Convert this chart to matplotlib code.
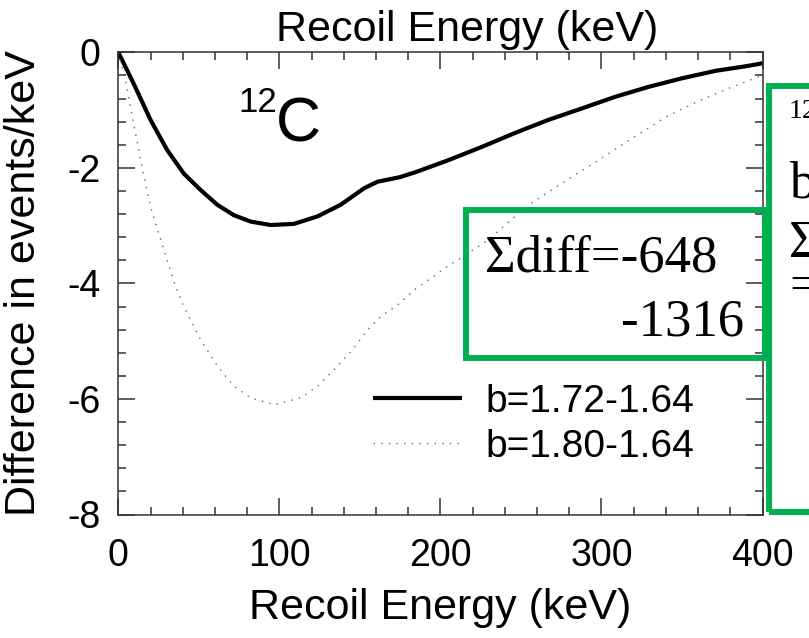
import matplotlib
matplotlib.use("Agg")
import matplotlib.pyplot as plt
from matplotlib.patches import Rectangle
from matplotlib.ticker import MultipleLocator

# Difference curves in events/keV versus recoil energy (keV)
x_b172 = [0, 9.5, 20, 30.3, 40.7, 51, 61.5, 71.8, 82.2, 94.7, 109, 123.7, 138,
          152.8, 161, 175, 184, 204.7, 225.5, 246, 267, 288, 308.6, 329, 350,
          371, 390, 400]
y_b172 = [0, -0.54, -1.17, -1.69, -2.10, -2.38, -2.64, -2.82, -2.93, -2.99,
          -2.97, -2.84, -2.64, -2.35, -2.24, -2.16, -2.08, -1.87, -1.64, -1.40,
          -1.17, -0.97, -0.77, -0.60, -0.45, -0.32, -0.24, -0.19]

x_b180 = [0, 4.4, 9.5, 14.7, 20, 25, 30.3, 35.5, 40.7, 51, 61.5, 71.8, 82.2,
          96.8, 113.4, 123.7, 134, 144.5, 155, 163, 173.6, 184, 204.7, 215,
          229.5, 246, 256.7, 277.5, 298, 319, 340, 360.5, 381, 400]
y_b180 = [0, -0.48, -1.23, -1.98, -2.67, -3.13, -3.59, -4.05, -4.40, -4.97,
          -5.43, -5.78, -5.98, -6.10, -5.98, -5.78, -5.49, -5.18, -4.80, -4.57,
          -4.37, -4.11, -3.70, -3.52, -3.25, -2.85, -2.61, -2.23, -1.87, -1.49,
          -1.12, -0.84, -0.60, -0.40]

labels = ["b=1.72-1.64", "b=1.80-1.64"]
x_ticks = [0, 100, 200, 300, 400]
y_ticks = [0, -2, -4, -6, -8]
sum_diff = ["\u03a3diff=-648", "-1316"]

W, H = 809, 638
fig = plt.figure(figsize=(W / 100, H / 100), dpi=100)

# axes frame in pixel terms
L, R, T, B = 118.3, 762.5, 52.3, 514.5
ax = fig.add_axes([L / W, (H - B) / H, (R - L) / W, (B - T) / H])

sans = "Liberation Sans"
serif = "Liberation Serif"

ax.plot(x_b172, y_b172, color="black", lw=3.0, solid_capstyle="butt",
        label=labels[0])
ax.plot(x_b180, y_b180, color="#666666", lw=1.0, linestyle=(0, (1, 4.5)),
        label=labels[1])

ax.set_xlim(0, 400)
ax.set_ylim(-8, 0)
ax.set_xticks(x_ticks)
ax.set_yticks(y_ticks)
ax.set_xticklabels([str(v) for v in x_ticks], fontfamily=sans, fontsize=27)
ax.set_yticklabels([str(v) for v in y_ticks], fontfamily=sans, fontsize=27)
ax.xaxis.set_minor_locator(MultipleLocator(20))
ax.yaxis.set_minor_locator(MultipleLocator(0.4))
ax.tick_params(which="both", direction="in", top=True, right=True,
               color="#333333", width=1.1)
ax.tick_params(which="major", length=12)
ax.tick_params(which="minor", length=6)
ax.tick_params(axis="x", pad=17)
ax.tick_params(axis="y", pad=13)
for s in ax.spines.values():
    s.set_linewidth(1.1)
    s.set_color("#333333")

ax.set_xlabel("Recoil Energy (keV)", fontfamily=sans, fontsize=31)
ax.xaxis.set_label_coords(0.5, (B - 588) / (B - T))
ax.set_ylabel("Difference in events/keV", fontfamily=sans, fontsize=31)
ax.yaxis.set_label_coords((44 - L) / (R - L), 0.5)
ax.text((467 - L) / (R - L), 1 + (T - 30) / (B - T), "Recoil Energy (keV)",
        transform=ax.transAxes, ha="center", va="center",
        fontfamily=sans, fontsize=31)

# nucleus label
ax.text(74.6, -1.03, "12", fontfamily=sans, fontsize=25, ha="left", va="baseline")
ax.text(98.0, -1.55, "C", fontfamily=sans, fontsize=45, ha="left", va="baseline")

leg = ax.legend(loc="upper left", bbox_to_anchor=((373 - L) / (R - L), (B - 384) / (B - T)),
                frameon=False, prop={"family": sans, "size": 28},
                handlelength=2.3, handletextpad=0.6, labelspacing=0.23,
                borderpad=0, borderaxespad=0)

green = "#00B050"
def px_rect(x0, y0, x1, y1):
    return Rectangle((x0 / W, 1 - y1 / H), (x1 - x0) / W, (y1 - y0) / H,
                     transform=fig.transFigure, fill=False, ec=green, lw=4.3,
                     clip_on=False, zorder=5)

fig.add_artist(px_rect(466, 210, 765, 358))
fig.add_artist(px_rect(769, 86, 840, 512))

fig.text(485 / W, 1 - 272 / H, sum_diff[0], fontfamily=serif, fontsize=38,
         ha="left", va="baseline")
fig.text(744 / W, 1 - 335 / H, sum_diff[1], fontfamily=serif, fontsize=38,
         ha="right", va="baseline")

# side panel text, running past the right edge
fig.text(789 / W, 1 - 118 / H, "12", fontfamily=serif, fontsize=20,
         ha="left", va="baseline")
fig.text(789 / W, 1 - 198 / H, "b", fontfamily=serif, fontsize=38,
         ha="left", va="baseline")
fig.text(789 / W, 1 - 257 / H, "\u03a3", fontfamily=serif, fontsize=38,
         ha="left", va="baseline")
fig.text(789 / W, 1 - 301 / H, "=", fontfamily=serif, fontsize=38,
         ha="left", va="baseline")

fig.savefig("out.png", dpi=100)
